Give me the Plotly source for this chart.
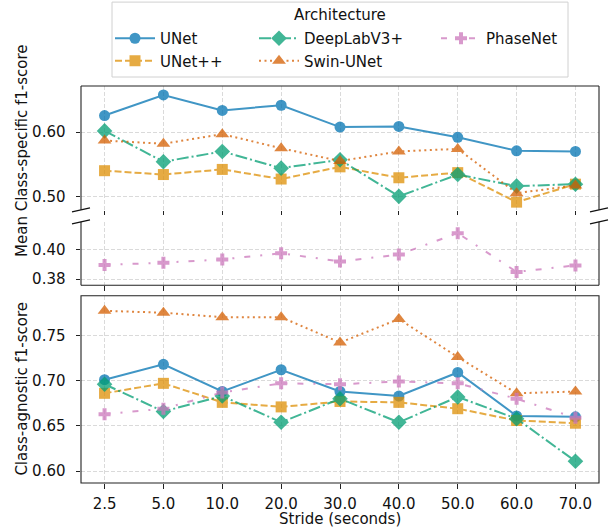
import plotly.graph_objects as go

# ---------------- data ----------------
strides = ["2.5", "5.0", "10.0", "20.0", "30.0", "40.0", "50.0", "60.0", "70.0"]
models = ["UNet", "UNet++", "DeepLabV3+", "Swin-UNet", "PhaseNet"]

# Mean class-specific f1-score
cs_unet = [0.626, 0.658, 0.634, 0.642, 0.608, 0.609, 0.592, 0.571, 0.570]
cs_unetpp = [0.540, 0.534, 0.542, 0.527, 0.546, 0.529, 0.537, 0.491, 0.519]
cs_deeplab = [0.602, 0.554, 0.570, 0.544, 0.557, 0.500, 0.534, 0.516, 0.519]
cs_swin = [0.587, 0.582, 0.597, 0.575, 0.555, 0.570, 0.574, 0.505, 0.517]
cs_phasenet = [0.3897, 0.3913, 0.3935, 0.3977, 0.3921, 0.3968, 0.4114, 0.3850, 0.3894]

# Class-agnostic f1-score
ca_unet = [0.701, 0.718, 0.688, 0.712, 0.688, 0.683, 0.709, 0.661, 0.660]
ca_unetpp = [0.686, 0.697, 0.676, 0.671, 0.677, 0.676, 0.669, 0.656, 0.653]
ca_deeplab = [0.696, 0.666, 0.683, 0.654, 0.680, 0.654, 0.682, 0.658, 0.611]
ca_swin = [0.777, 0.775, 0.770, 0.770, 0.742, 0.768, 0.726, 0.686, 0.688]
ca_phasenet = [0.663, 0.669, 0.687, 0.697, 0.696, 0.699, 0.697, 0.680, 0.659]

cs_values = [cs_unet, cs_unetpp, cs_deeplab, cs_swin, cs_phasenet]
ca_values = [ca_unet, ca_unetpp, ca_deeplab, ca_swin, ca_phasenet]

top_ticks = [0.50, 0.60]
mid_ticks = [0.38, 0.40]
bot_ticks = [0.60, 0.65, 0.70, 0.75]

# ---------------- styles ----------------
colors = ["#0173b2", "#de8f05", "#029e73", "#d55e00", "#cc78bc"]
symbols = ["circle", "square", "diamond", "triangle-up", "cross"]
msizes = [11, 11, 12, 12, 10]
dashes = ["solid", "7px,3px", "12px,3px,2px,3px", "2px,3.5px", "6px,10px,2px,10px"]
legends = ["legend", "legend", "legend2", "legend2", "legend3"]

FONT = "DejaVu Sans"
FS = 15
W, H = 616, 529
ML, MR, MT, MB = 81, 17, 86, 45.5
PW = W - ML - MR
PH = H - MT - MB


def py(y):  # pixel row -> paper y
    return (H - MB - y) / PH


def px(x):  # pixel column -> paper x
    return (x - ML) / PW


def cx(x):  # pixel column -> container x
    return x / W


def cy(y):  # pixel row -> container y
    return 1 - y / H


dom_top = [py(210), 1.0]
dom_mid = [py(285.5), py(222)]
dom_bot = [0.0, py(296)]

fig = go.Figure()

for i, m in enumerate(models):
    line = dict(color=colors[i], width=2, dash=dashes[i])
    marker = dict(symbol=symbols[i], size=msizes[i], color=colors[i], line=dict(width=0))
    for ax, vals, show in (("y", cs_values[i], True), ("y2", cs_values[i], False),
                           ("y3", ca_values[i], False)):
        fig.add_trace(go.Scatter(
            x=strides, y=vals, mode="lines+markers", name=m,
            xaxis="x" if ax == "y" else ("x2" if ax == "y2" else "x3"), yaxis=ax,
            line=line, marker=marker, opacity=0.75,
            showlegend=show, legend=legends[i], hoverinfo="skip"))

grid = dict(showgrid=True, gridcolor="#dadada", gridwidth=0.8, griddash="4px,2px",
            zeroline=False, showline=False, ticks="outside", ticklen=4.5,
            tickwidth=1, tickcolor="#222", automargin=False)
xcommon = dict(type="category", range=[-0.4, 8.4], ticklabelstandoff=2, **grid)
ycommon = dict(tickformat=".2f", ticklabelstandoff=7, **grid)

leg = dict(xref="container", yref="container", xanchor="left", yanchor="top",
           orientation="v", bgcolor="rgba(0,0,0,0)", borderwidth=0, itemwidth=40,
           font=dict(size=FS))

fig.update_layout(
    width=W, height=H,
    margin=dict(l=ML, r=MR, t=MT, b=MB, autoexpand=False),
    paper_bgcolor="white", plot_bgcolor="white",
    font=dict(family=FONT, size=FS, color="#111"),
    xaxis=dict(anchor="y", domain=[0, 1], matches="x3", showticklabels=False, **xcommon),
    xaxis2=dict(anchor="y2", domain=[0, 1], matches="x3", showticklabels=False, **xcommon),
    xaxis3=dict(anchor="y3", domain=[0, 1], **xcommon),
    yaxis=dict(domain=dom_top, range=[0.479, 0.672], tickvals=top_ticks, **ycommon),
    yaxis2=dict(domain=dom_mid, range=[0.3759, 0.4191], tickvals=mid_ticks, **ycommon),
    yaxis3=dict(domain=dom_bot, range=[0.587, 0.7937], tickvals=bot_ticks, **ycommon),
    legend=dict(x=cx(110), y=cy(22), **leg),
    legend2=dict(x=cx(254), y=cy(22), **leg),
    legend3=dict(x=cx(436), y=cy(22), **leg),
    showlegend=True,
)

spine = dict(color="#222", width=1.1)
shapes = []
# top panel: left, right, top
shapes += [
    dict(type="line", xref="paper", yref="paper", x0=0, x1=0, y0=dom_top[0], y1=dom_top[1], line=spine),
    dict(type="line", xref="paper", yref="paper", x0=1, x1=1, y0=dom_top[0], y1=dom_top[1], line=spine),
    dict(type="line", xref="paper", yref="paper", x0=0, x1=1, y0=dom_top[1], y1=dom_top[1], line=spine),
]
# middle panel: left, right, bottom
shapes += [
    dict(type="line", xref="paper", yref="paper", x0=0, x1=0, y0=dom_mid[0], y1=dom_mid[1], line=spine),
    dict(type="line", xref="paper", yref="paper", x0=1, x1=1, y0=dom_mid[0], y1=dom_mid[1], line=spine),
    dict(type="line", xref="paper", yref="paper", x0=0, x1=1, y0=dom_mid[0], y1=dom_mid[0], line=spine),
]
# bottom panel box
shapes.append(dict(type="rect", xref="paper", yref="paper", x0=0, x1=1, y0=dom_bot[0], y1=dom_bot[1],
                   line=spine, fillcolor="rgba(0,0,0,0)"))
# break marks
for xa in (0, 1):
    for ya in (dom_top[0], dom_mid[1]):
        shapes.append(dict(type="line", xref="paper", yref="paper",
                           xsizemode="pixel", xanchor=xa, x0=-9, x1=9,
                           ysizemode="pixel", yanchor=ya, y0=-2, y1=2,
                           line=dict(color="#111", width=1.4)))
for s in shapes:
    s["layer"] = "above"
# legend frame
shapes.append(dict(type="rect", xref="paper", yref="paper", layer="below",
                   x0=px(112), x1=px(568), y0=py(77), y1=py(2),
                   line=dict(color="#d0d0d0", width=1), fillcolor="white"))
fig.update_layout(shapes=shapes)

annotations = [
    dict(text="Architecture", xref="paper", yref="paper", x=px(340), y=py(15),
         xanchor="center", yanchor="middle", showarrow=False, font=dict(size=FS)),
    dict(text="Stride (seconds)", xref="paper", yref="paper", x=0.5, y=py(529.5),
         xanchor="center", yanchor="bottom", showarrow=False, borderpad=0,
         font=dict(size=FS)),
    dict(text="Mean Class-specific f1-score", xref="paper", yref="paper", x=px(22), y=py(151),
         xanchor="center", yanchor="middle", textangle=-90, showarrow=False, font=dict(size=FS)),
    dict(text="Class-agnostic f1-score", xref="paper", yref="paper", x=px(22), y=py(389),
         xanchor="center", yanchor="middle", textangle=-90, showarrow=False, font=dict(size=FS)),
]
fig.update_layout(annotations=annotations)

fig.write_html("out.html", config={"displayModeBar": False},
               post_script="document.body.style.margin='0';document.body.style.overflow='hidden';")
